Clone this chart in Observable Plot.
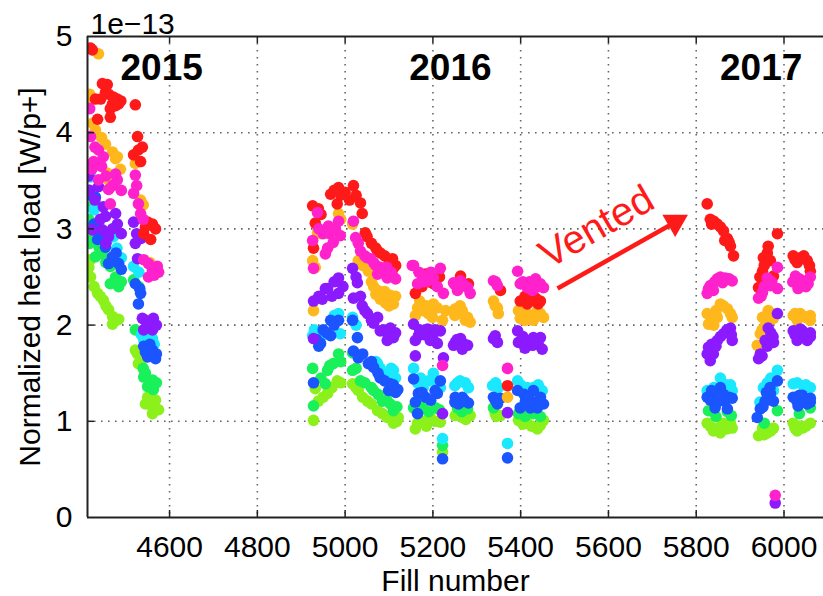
<!DOCTYPE html>
<html><head><meta charset="utf-8">
<script src="https://cdn.jsdelivr.net/npm/d3@7"></script>
<script src="https://cdn.jsdelivr.net/npm/@observablehq/plot@0.6"></script>
<style>html,body{margin:0;padding:0;background:#fff;} svg{display:block}</style>
</head><body><div id="chart"></div>
<script>
// ---- data (heat load in units of 1e-13 W/p+) ----
const xTicks = [4600, 4800, 5000, 5200, 5400, 5600, 5800, 6000];
const yTicks = [0, 1, 2, 3, 4, 5];
const seriesNames = ["S78", "S67", "S56", "S45", "S23", "S34", "S81", "S12"];
const seriesColors = ["#8cf01a", "#1af05a", "#1ae8ff", "#1a55ff", "#ffb81c", "#8c1aff", "#ff1a1a", "#ff22cc"];

const limeSeries = [
  [4420,2.68],[4420,2.50],[4436,2.33],[4449,2.26],[4461,2.16],[4470,2.09],[4484,2.06],[4470,2.01],[4428,2.40],[4442,2.30],[4455,2.20],[4478,2.05],[4416,2.60],
  [4522,1.74],[4529,1.60],[4545,1.18],[4561,1.15],[4568,1.22],[4561,1.08],[4527,1.70],[4550,1.25],[4575,1.12],[4535,1.62],
  [4928,1.01],[4939,1.21],[4960,1.29],[4982,1.42],[4932,1.34],[5017,1.39],[5030,1.32],[5051,1.21],[5074,1.11],[5096,1.04],[5110,0.98],[5121,1.04],
  [4950,1.25],[4970,1.35],[4990,1.40],[5025,1.35],[5040,1.25],[5060,1.18],[5085,1.08],[5100,1.05],[5118,1.00],
  [5160,0.92],[5172,1.01],[5194,1.04],[5217,0.99],[5222,0.68],[5165,0.98],[5185,0.95],[5205,1.00],
  [5251,1.06],[5267,1.04],[5285,1.06],[5275,1.02],[5260,1.08],
  [5342,1.08],[5354,1.06],[5345,1.05],
  [5395,1.01],[5415,0.98],[5438,0.92],[5452,1.01],[5405,0.97],[5425,0.95],[5445,0.96],
  [5825,0.98],[5839,0.90],[5862,0.98],[5882,0.93],[5855,0.88],[5832,0.95],[5848,0.93],[5870,0.92],[5878,0.98],
  [5942,0.85],[5962,0.88],[5976,0.93],[5951,0.93],[5970,0.90],[5955,0.86],
  [6021,0.98],[6042,0.93],[6060,0.98],[6030,0.90],[6035,0.95],[6050,0.95],[6025,0.93]
];
const greenSeries = [
  [4416,3.10],[4420,3.23],[4431,2.71],[4447,2.74],[4465,2.61],[4477,2.50],[4484,2.40],[4465,2.43],[4425,2.90],[4440,2.80],[4455,2.65],[4490,2.45],[4418,2.85],
  [4518,2.47],[4522,1.95],[4541,1.46],[4561,1.43],[4550,1.36],[4563,1.33],[4530,2.40],[4545,1.50],[4570,1.40],[4540,1.55],
  [4926,1.55],[4960,1.53],[4973,1.60],[4985,1.70],[4928,1.16],[4955,1.39],[5017,1.71],[5017,1.53],[5035,1.42],[5065,1.32],[5085,1.21],[5103,1.18],[5110,1.11],
  [4945,1.45],[4965,1.58],[4990,1.62],[5025,1.55],[5045,1.40],[5060,1.35],[5075,1.28],[5095,1.22],[5118,1.15],
  [5156,1.14],[5178,1.18],[5206,1.14],[5222,0.75],[5165,1.12],[5190,1.10],[5215,1.12],
  [5256,1.14],[5279,1.13],[5266,1.10],
  [5338,1.14],
  [5395,1.08],[5429,1.08],[5410,1.05],[5445,1.05],
  [5828,1.11],[5871,1.10],[5845,1.05],[5880,1.06],
  [5985,1.11],[5955,0.98],
  [6060,1.14],[6035,1.08]
];
const cyanSeries = [
  [4420,3.54],[4438,3.05],[4472,2.92],[4458,2.88],[4416,3.40],[4428,3.20],[4450,2.95],[4480,2.80],[4490,2.70],
  [4518,2.61],[4530,2.55],[4541,1.85],[4561,1.86],[4536,1.90],[4555,1.88],[4565,1.80],
  [4985,2.12],[4926,1.89],[4989,1.91],[5017,2.08],[5110,1.53],[5074,1.60],[5100,1.45],[5090,1.50],
  [4930,1.95],[4975,2.10],[5025,2.00],[5080,1.55],[5105,1.55],[5115,1.45],[5070,1.62],[4950,1.90],
  [5156,1.55],[5172,1.45],[5201,1.50],[5178,1.35],[5217,1.35],[5222,0.82],[5165,1.40],[5190,1.42],[5210,1.40],
  [5256,1.40],[5274,1.40],[5281,1.35],[5262,1.42],[5250,1.37],
  [5336,1.37],[5349,1.35],[5370,0.77],[5343,1.40],
  [5393,1.42],[5429,1.35],[5449,1.32],[5406,1.29],[5415,1.35],[5440,1.38],[5400,1.38],
  [5825,1.32],[5855,1.45],[5882,1.32],[5840,1.35],[5868,1.38],[5878,1.38],
  [5985,1.53],[5953,1.35],[5976,1.32],[5962,1.40],[5970,1.45],[5945,1.20],
  [6021,1.39],[6044,1.37],[6060,1.35],[6030,1.40],[6050,1.38]
];
const blueSeries = [
  [4415,3.57],[4431,3.33],[4436,2.89],[4454,2.81],[4470,2.71],[4484,2.64],[4461,2.64],[4420,3.35],[4428,3.05],[4445,2.95],[4478,2.75],[4490,2.58],
  [4522,2.43],[4534,2.33],[4529,2.22],[4541,1.78],[4561,1.74],[4550,1.67],[4568,1.65],[4532,2.38],[4545,1.72],[4570,1.70],[4555,1.80],
  [4967,2.05],[4985,2.05],[4944,1.81],[4967,1.89],[4928,1.40],[4950,1.95],[4935,1.85],[5017,2.05],[5028,1.87],[5019,1.73],[5030,1.66],[5053,1.60],[5065,1.56],[5080,1.45],[5103,1.39],[5115,1.30],[5099,1.32],
  [4940,1.78],[4958,1.92],[4975,2.00],[5040,1.70],[5060,1.62],[5075,1.50],[5090,1.42],[5110,1.38],[5120,1.33],
  [5156,1.44],[5167,1.29],[5183,1.25],[5210,1.29],[5165,1.08],[5217,1.42],[5222,0.61],[5175,1.30],[5195,1.22],[5205,1.32],[5160,1.20],
  [5251,1.25],[5267,1.25],[5281,1.19],[5258,1.18],[5272,1.22],[5263,1.20],[5250,1.20],
  [5338,1.25],[5354,1.24],[5347,1.18],[5370,0.62],[5342,1.22],
  [5393,1.32],[5411,1.21],[5429,1.32],[5438,1.14],[5452,1.18],[5399,1.14],[5422,1.14],[5408,1.28],[5418,1.25],[5445,1.25],[5430,1.20],
  [5825,1.25],[5839,1.29],[5855,1.35],[5866,1.21],[5882,1.24],[5843,1.14],[5871,1.13],[5832,1.22],[5848,1.20],[5862,1.28],[5875,1.25],[5835,1.32],
  [5985,1.42],[5969,1.29],[5957,1.21],[5946,1.13],[5939,1.04],[5976,1.21],[5960,1.30],[5968,1.35],[5952,1.15],
  [6021,1.25],[6042,1.27],[6060,1.24],[6032,1.16],[6053,1.18],[6028,1.22],[6045,1.20],[6060,1.20],[6035,1.27]
];
const orangeSeries = [
  [4438,4.82],[4420,4.34],[4416,4.38],[4431,4.03],[4454,3.88],[4477,3.73],[4461,3.51],[4481,3.75],[4418,4.40],[4425,4.10],[4445,3.95],[4470,3.80],[4488,3.62],[4458,3.58],
  [4522,3.68],[4534,3.30],[4563,2.61],[4540,3.25],[4570,2.55],[4555,2.65],
  [4985,3.16],[4937,2.96],[4926,2.67],[4928,2.15],[5017,3.05],[5030,2.67],[5053,2.56],[5060,2.45],[5074,2.36],[5080,2.27],[5090,2.35],[5103,2.31],[5110,2.22],[5092,2.23],
  [4932,2.60],[4945,2.95],[4990,3.10],[5040,2.62],[5065,2.40],[5085,2.28],[5100,2.20],[5115,2.30],[5070,2.32],
  [5165,2.18],[5178,2.15],[5201,2.22],[5199,2.08],[5222,2.05],[5229,2.15],[5190,2.12],[5160,2.10],[5185,2.20],[5210,2.18],[5170,2.25],
  [5251,2.17],[5267,2.15],[5279,2.08],[5285,2.03],[5258,2.12],[5262,2.20],[5274,2.05],[5250,2.10],
  [5338,2.25],[5347,2.18],[5349,2.12],[5370,1.25],[5342,2.20],
  [5395,2.15],[5415,2.12],[5438,2.15],[5452,2.08],[5399,2.07],[5429,2.05],[5405,2.18],[5420,2.08],[5445,2.12],[5410,2.05],
  [5825,2.12],[5828,2.01],[5855,2.22],[5871,2.17],[5882,2.08],[5848,2.08],[5832,2.10],[5845,2.15],[5862,2.20],[5878,2.12],[5840,2.00],
  [5951,2.08],[5964,2.15],[5976,2.07],[5946,1.91],[5939,1.79],[5958,2.00],[5972,2.12],[5950,1.95],
  [6021,2.10],[6042,2.10],[6060,2.10],[6030,2.05],[6025,2.12],[6050,2.08],[6037,2.12],[6060,2.05]
];
const purpleSeries = [
  [4416,3.55],[4424,3.68],[4438,3.44],[4449,3.23],[4454,3.13],[4477,3.16],[4481,3.05],[4461,2.92],[4447,2.99],[4424,2.99],[4418,3.40],[4430,3.30],[4442,3.10],[4470,3.00],[4490,2.95],[4455,2.85],
  [4518,3.07],[4522,2.85],[4527,2.69],[4538,2.07],[4550,2.01],[4563,2.07],[4541,1.95],[4561,1.95],[4525,2.95],[4545,2.05],[4570,2.00],[4555,1.98],[4535,2.90],
  [4985,2.49],[4960,2.38],[4928,2.25],[4948,2.27],[4985,2.33],[4970,2.30],[5017,2.59],[5028,2.44],[5019,2.28],[5039,2.20],[5051,2.12],[5060,2.05],[5074,2.08],[5080,1.94],[5103,1.97],[5110,1.87],[5096,1.84],[4928,1.86],
  [4940,2.30],[4955,2.38],[4975,2.45],[4995,2.40],[5025,2.50],[5045,2.15],[5065,2.02],[5088,1.95],[5098,1.90],[5115,1.92],[5035,2.30],
  [5156,2.01],[5160,1.84],[5167,1.89],[5188,1.96],[5194,1.84],[5217,1.94],[5210,1.81],[5160,1.68],[5224,1.66],[5222,1.08],[5170,1.95],[5180,1.90],[5200,1.86],[5205,1.95],
  [5251,1.82],[5263,1.86],[5279,1.79],[5267,1.75],[5247,1.79],[5272,1.80],[5255,1.85],
  [5342,1.89],[5347,1.82],[5370,1.09],[5338,1.86],
  [5393,1.94],[5395,1.82],[5415,1.79],[5429,1.87],[5445,1.87],[5449,1.75],[5427,1.79],[5405,1.88],[5420,1.84],[5440,1.80],[5410,1.76],
  [5828,1.77],[5832,1.63],[5848,1.84],[5862,1.91],[5878,1.97],[5882,1.84],[5839,1.70],[5835,1.80],[5855,1.88],[5870,1.95],[5845,1.78],[5880,1.90],[5825,1.70],
  [5985,2.12],[5964,1.97],[5957,1.84],[5946,1.70],[5942,1.65],[5976,1.82],[5980,0.15],[5970,1.92],[5962,1.78],[5950,1.68],[5975,1.88],
  [6021,1.94],[6042,1.94],[6060,1.92],[6030,1.84],[6053,1.84],[6025,1.90],[6037,1.96],[6048,1.90],[6060,1.88]
];
const redSeries = [
  [4420,4.88],[4424,4.86],[4447,4.51],[4454,4.42],[4461,4.40],[4472,4.37],[4481,4.35],[4484,4.30],[4470,4.30],[4465,4.25],[4465,4.16],[4431,4.35],[4443,4.35],[4436,4.14],[4458,4.50],[4477,4.28],[4489,4.33],
  [4522,4.29],[4527,3.96],[4529,3.82],[4518,3.77],[4534,3.70],[4550,3.07],[4561,3.05],[4541,2.95],[4568,3.00],[4557,2.89],[4545,3.02],[4538,3.85],
  [4926,3.24],[4939,3.21],[4967,3.36],[4985,3.43],[4982,3.26],[5000,3.38],[5010,3.30],[5019,3.45],[5035,3.27],[5039,3.16],[4932,3.06],[4960,2.96],[5046,2.96],[5060,2.85],[5074,2.77],[5090,2.72],[5100,2.64],[5108,2.69],[5110,2.59],[4928,2.80],
  [4945,3.15],[4975,3.40],[4990,3.35],[5025,3.35],[5050,2.92],[5070,2.80],[5080,2.75],[5115,2.62],
  [5160,2.33],[5201,2.43],[5183,2.53],[5175,2.40],[5190,2.45],[5215,2.50],
  [5263,2.51],[5281,2.43],
  [5354,2.36],[5370,1.37],
  [5399,2.25],[5422,2.25],[5445,2.25],[5434,2.28],[5410,2.30],[5425,2.30],[5440,2.22],[5415,2.22],
  [5825,3.26],[5832,3.10],[5840,3.08],[5848,3.05],[5862,2.98],[5871,2.90],[5878,2.82],[5885,2.72],[5835,3.05],[5855,3.02],[5865,2.88],[5875,2.86],
  [5985,2.95],[5964,2.82],[5953,2.70],[5969,2.67],[5951,2.56],[5942,2.39],[5976,2.51],[5962,2.75],[5955,2.62],[5945,2.50],
  [6021,2.72],[6037,2.70],[6053,2.67],[6060,2.56],[6030,2.65],[6025,2.68],[6045,2.72],[6058,2.62]
];
const magentaSeries = [
  [4418,4.25],[4420,3.96],[4438,3.82],[4427,3.70],[4449,3.75],[4438,3.51],[4461,3.41],[4477,3.57],[4481,3.51],[4465,3.26],[4430,3.85],[4445,3.65],[4455,3.55],[4470,3.45],[4490,3.40],[4423,3.62],
  [4522,3.56],[4518,3.37],[4529,3.26],[4534,3.16],[4552,2.64],[4561,2.57],[4572,2.61],[4552,2.50],[4541,2.68],[4525,3.45],[4540,3.10],[4565,2.52],[4575,2.55],
  [4937,3.17],[4962,3.03],[4985,3.08],[4989,2.93],[4926,2.88],[4950,2.95],[4955,2.74],[4973,2.86],[4928,2.59],[5019,3.08],[5024,2.91],[5035,2.77],[5045,2.72],[5058,2.69],[5074,2.53],[5080,2.60],[5096,2.49],[5099,2.56],[5105,2.55],[5115,2.48],
  [4940,3.00],[4965,2.95],[4978,3.00],[4960,2.80],[5030,2.85],[5050,2.70],[5065,2.65],[5085,2.55],[5095,2.60],[5110,2.50],[5070,2.62],
  [5153,2.62],[5156,2.62],[5165,2.43],[5175,2.52],[5188,2.46],[5201,2.49],[5217,2.59],[5224,2.33],[5222,1.58],[5180,2.45],[5195,2.55],[5210,2.40],[5168,2.55],
  [5247,2.44],[5263,2.46],[5279,2.39],[5256,2.36],[5285,2.33],[5270,2.42],[5250,2.42],
  [5338,2.46],[5347,2.41],[5370,1.55],[5343,2.45],
  [5393,2.56],[5399,2.43],[5415,2.39],[5434,2.48],[5445,2.43],[5427,2.36],[5452,2.39],[5405,2.45],[5420,2.45],[5440,2.40],
  [5825,2.33],[5832,2.41],[5848,2.48],[5866,2.49],[5882,2.46],[5839,2.36],[5828,2.38],[5855,2.50],[5875,2.48],[5842,2.45],[5860,2.44],
  [5985,2.60],[5962,2.49],[5951,2.34],[5942,2.28],[5969,2.41],[5985,2.38],[5980,0.23],[5955,2.40],[5972,2.45],[5948,2.30],
  [6026,2.51],[6042,2.46],[6055,2.43],[6032,2.38],[6050,2.40],[6020,2.45],[6035,2.48],[6060,2.50]
];
const seriesValues = [limeSeries, greenSeries, cyanSeries, blueSeries, orangeSeries, purpleSeries, redSeries, magentaSeries];

const yearLabels = ["2015", "2016", "2017"];
const yearFills = [4582, 5240, 5948];
const yearLevel = 4.67;

const ventedText = "Vented";
const ventedAt = [5573, 3.02];
const arrowFrom = [5484, 2.38];
const arrowTo = [5752, 3.07];

// ---- build table ----
const rows = seriesValues.flatMap((vals, i) =>
  vals.map(([fill, load]) => ({sector: seriesNames[i], color: seriesColors[i], fill, load})));

const xDomain = [4413, 6090];
const FONT = "'Liberation Sans', Arial, Helvetica, sans-serif";
const gridStyle = {stroke: "#666", strokeOpacity: 1, strokeWidth: 1.6, strokeDasharray: "1.6,5.4"};

const chart = Plot.plot({
  width: 823,
  height: 596,
  marginLeft: 87,
  marginRight: 0,
  marginTop: 36,
  marginBottom: 79,
  style: {fontFamily: FONT, background: "#fff", color: "#000"},
  x: {domain: xDomain},
  y: {domain: [0, 5]},
  color: {type: "identity"},
  marks: [
    Plot.gridX(xTicks, gridStyle),
    Plot.gridY(yTicks.slice(1, 5), gridStyle),
    Plot.dot(rows, {x: "fill", y: "load", fill: "color", r: 5.8, stroke: null, clip: true}),
    // inner ticks (bottom, top, left)
    Plot.ruleX(xTicks, {y1: 5, y2: 0, insetTop: 474, stroke: "#222", strokeWidth: 1.5}),
    Plot.ruleX(xTicks, {y1: 5, y2: 0, insetBottom: 474, stroke: "#222", strokeWidth: 1.5}),
    Plot.ruleY(yTicks.slice(1, 5), {x1: xDomain[0], x2: xDomain[1], insetRight: 729, stroke: "#222", strokeWidth: 1.5}),
    // frame (left, top, bottom)
    Plot.ruleX([xDomain[0]], {stroke: "#222", strokeWidth: 2}),
    Plot.ruleY([0, 5], {stroke: "#222", strokeWidth: 2}),
    Plot.axisX(xTicks, {tickSize: 0, tickPadding: 18, fontSize: 30, label: null, tickFormat: d => String(d)}),
    Plot.axisY(yTicks, {tickSize: 0, tickPadding: 15, fontSize: 30, label: null, tickFormat: d => String(d)}),
    Plot.text(["1e\u221213"], {frameAnchor: "top-left", textAnchor: "start", lineAnchor: "bottom", dx: 3, dy: -3, fontSize: 30}),
    Plot.text(["Normalized heat load [W/p+]"], {frameAnchor: "left", textAnchor: "middle", lineAnchor: "middle", rotate: -90, dx: -57, fontSize: 30}),
    Plot.text(["Fill number"], {frameAnchor: "bottom", textAnchor: "middle", lineAnchor: "bottom", dy: 73, fontSize: 30}),
    Plot.text(yearLabels, {x: (d, i) => yearFills[i], y: yearLevel, fontSize: 37, fontWeight: "bold"}),
    // Vented annotation
    Plot.link([0], {x1: arrowFrom[0], y1: arrowFrom[1], x2: arrowTo[0], y2: arrowTo[1], stroke: "#ff1a1a", strokeWidth: 4.5}),
    Plot.dot([0], {x: arrowTo[0], y: arrowTo[1], symbol: "triangle", r: 9.5, fill: "#ff1a1a", stroke: null, rotate: 60}),
    Plot.text([ventedText], {x: ventedAt[0], y: ventedAt[1], rotate: -30, fontSize: 40, fill: "#ff1a1a"})
  ]
});
document.getElementById("chart").appendChild(chart);
</script>
</body></html>
